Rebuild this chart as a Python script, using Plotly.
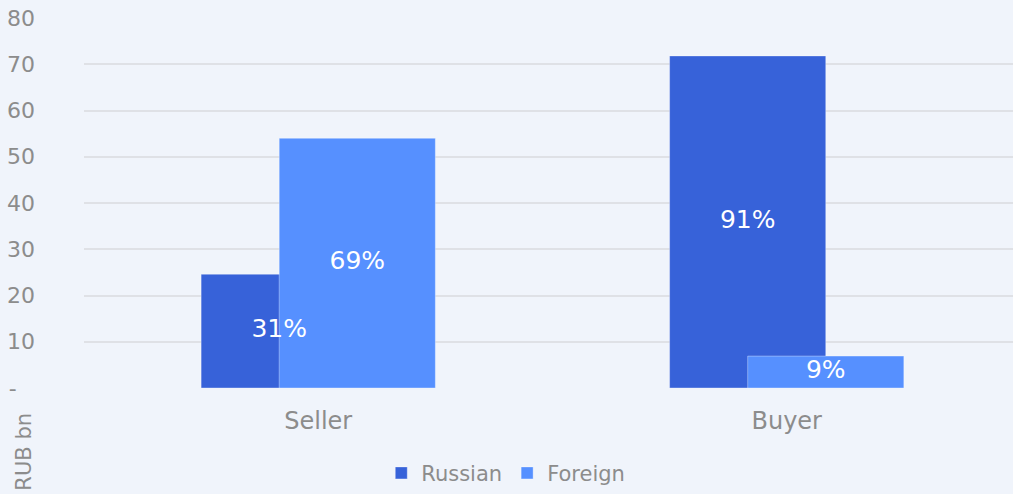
import plotly.graph_objects as go

categories = ["Seller", "Buyer"]
russian = [24.6, 71.8]
foreign = [54.0, 6.9]
russian_pct = ["31%", "91%"]
foreign_pct = ["69%", "9%"]
y_ticks = [0, 10, 20, 30, 40, 50, 60, 70, 80]
y_ticktext = ["-\u00a0\u00a0\u2009", "10", "20", "30", "40", "50", "60", "70", "80"]

C_RU = "#3762D9"
C_FO = "#5690FF"
FONT = "Verdana, DejaVu Sans, sans-serif"
W = 1 / 3
OFF_RU = -0.25
OFF_FO = -0.25 + W / 2
xpos = list(range(len(categories)))

fig = go.Figure()
fig.add_trace(go.Bar(
    name="Russian", x=xpos, y=russian, width=W, offset=OFF_RU, hoverinfo="skip",
    marker=dict(color=C_RU, line=dict(color="rgba(255,255,255,0.35)", width=1)),
))
fig.add_trace(go.Bar(
    name="Foreign", x=xpos, y=foreign, width=W, offset=OFF_FO, hoverinfo="skip",
    marker=dict(color=C_FO, line=dict(color="rgba(255,255,255,0.35)", width=1)),
))

# percentage labels on top of all bars
lx, ly, lt = [], [], []
for i in xpos:
    lx += [i + OFF_RU + W / 2, i + OFF_FO + W / 2]
    ly += [russian[i] / 2, foreign[i] / 2]
    lt += [russian_pct[i], foreign_pct[i]]
fig.add_trace(go.Scatter(
    x=lx, y=ly, text=lt, mode="text", showlegend=False, hoverinfo="skip",
    textposition="middle center", cliponaxis=False,
    textfont=dict(color="white", size=25, family=FONT),
))

fig.update_layout(
    width=1013, height=494,
    barmode="overlay",
    paper_bgcolor="#F0F4FB", plot_bgcolor="#F0F4FB",
    margin=dict(l=84, r=0, t=18, b=106, autoexpand=False),
    font=dict(family=FONT, color="#8C8C8C", size=21),
    showlegend=True,
    legend=dict(orientation="h", x=0.454, xanchor="center",
                y=-0.175, yanchor="top",
                font=dict(size=21, color="#8C8C8C"), itemwidth=30,
                traceorder="normal"),
)
fig.update_xaxes(
    tickvals=xpos, ticktext=categories,
    range=[-0.5, 1.483], showgrid=False, zeroline=False, showline=False,
    ticks="", ticklabelstandoff=16, tickfont=dict(size=24, color="#8C8C8C"),
)
fig.update_yaxes(
    range=[0, 80], tickvals=y_ticks, ticktext=y_ticktext,
    showgrid=True, gridcolor="#DFE1E6", gridwidth=2, zeroline=False,
    showline=False, ticks="", ticklabelstandoff=48,
    tickfont=dict(size=22, color="#8C8C8C"),
)
fig.add_annotation(
    text="RUB bn", textangle=-90, showarrow=False,
    xref="paper", yref="paper", x=-0.065, y=-0.173,
    xanchor="center", yanchor="middle",
    font=dict(size=21, color="#8C8C8C", family=FONT),
)
fig.write_html(
    "out.html",
    config={"displayModeBar": False},
    post_script="document.body.style.margin='0';document.body.style.background='#F0F4FB';",
)
